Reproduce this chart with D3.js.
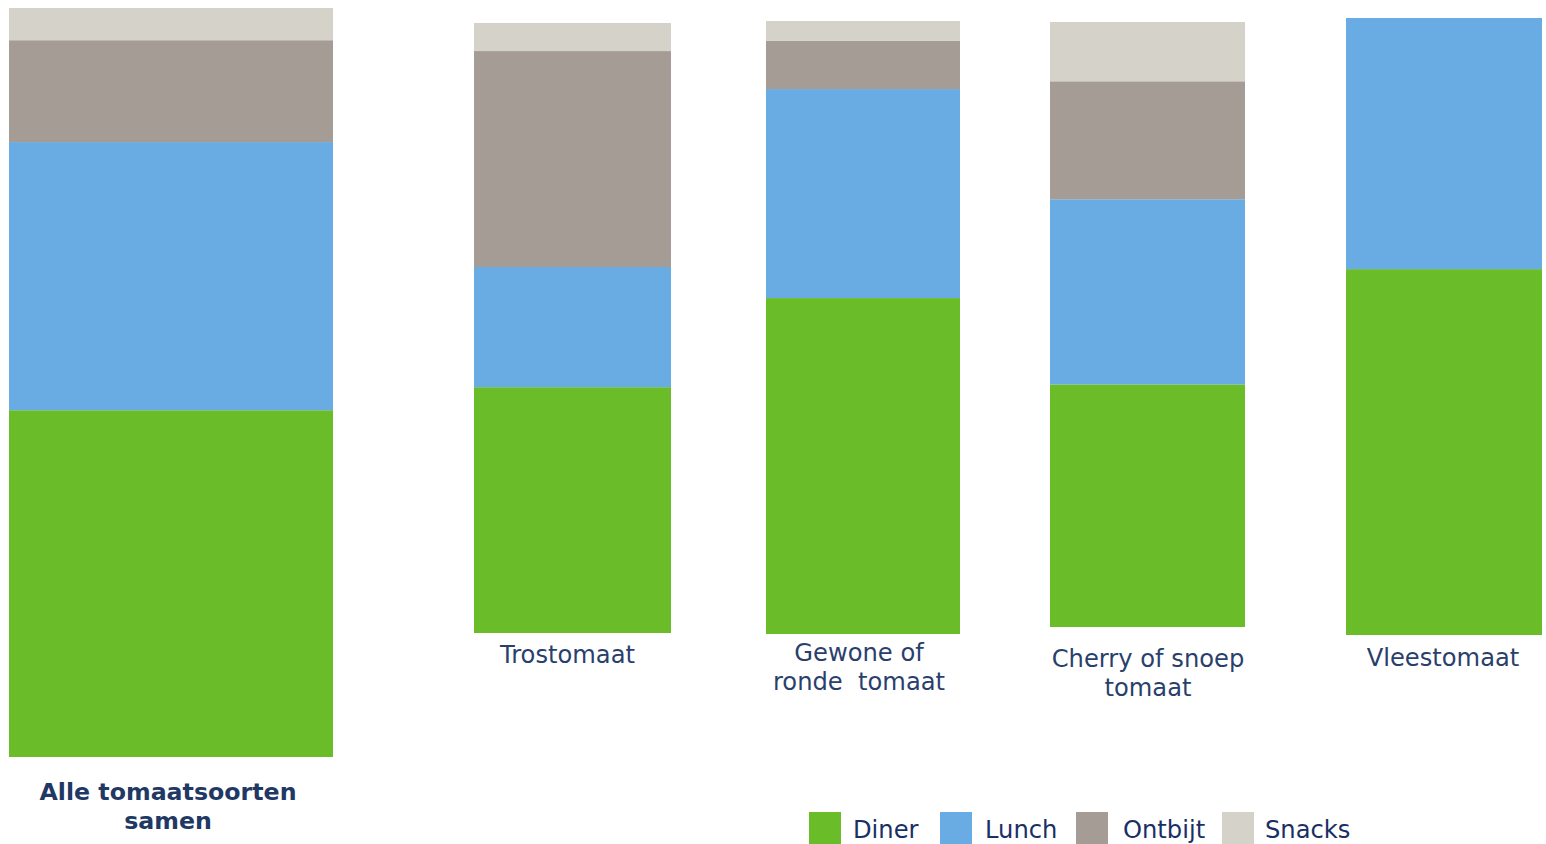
<!DOCTYPE html>
<html>
<head>
<meta charset="utf-8">
<script src="https://cdn.jsdelivr.net/npm/d3@7"></script>
<style>
  html, body { margin: 0; padding: 0; background: #ffffff; }
  svg { display: block; }
</style>
</head>
<body>
<svg id="chart" width="1546" height="844"></svg>
<script>
// ---- data ----
const categories = ["Alle tomaatsoorten samen", "Trostomaat", "Gewone of ronde  tomaat", "Cherry of snoep tomaat", "Vleestomaat"];
const series = ["Diner", "Lunch", "Ontbijt", "Snacks"];
const diner   = [46.3, 40.3, 54.8, 40.1, 59.3];
const lunch   = [35.8, 19.7, 34.1, 30.6, 40.7];
const ontbijt = [13.6, 35.4,  7.9, 19.5,  0.0];
const snacks  = [ 4.3,  4.6,  3.2,  9.8,  0.0];
const labelLines = [
  ["Alle tomaatsoorten", "samen"],
  ["Trostomaat"],
  ["Gewone of", "ronde  tomaat"],
  ["Cherry of snoep", "tomaat"],
  ["Vleestomaat"]
];

// ---- layout / style ----
const colors = { Diner: "#6abd28", Lunch: "#69ace3", Ontbijt: "#a59c96", Snacks: "#d5d2ca" };
const panels = [
  { x0: 9,    x1: 333,  top: 8,  bottom: 757, labelCx: 168,  labelY: 800, lineH: 29, bold: true },
  { x0: 474,  x1: 671,  top: 23, bottom: 633, labelCx: 567.5, labelY: 663, lineH: 29 },
  { x0: 766,  x1: 960,  top: 21, bottom: 634, labelCx: 859,  labelY: 661, lineH: 29 },
  { x0: 1050, x1: 1245, top: 22, bottom: 627, labelCx: 1148, labelY: 667, lineH: 29 },
  { x0: 1346, x1: 1542, top: 18, bottom: 635, labelCx: 1443, labelY: 666, lineH: 29 }
];
const FONT = "'DejaVu Sans', Verdana, sans-serif";

const values = { Diner: diner, Lunch: lunch, Ontbijt: ontbijt, Snacks: snacks };
const rows = categories.map((c, i) => {
  const r = { category: c };
  series.forEach(s => r[s] = values[s][i]);
  return r;
});
const stacked = d3.stack().keys(series)(rows);

const svg = d3.select("#chart");

categories.forEach((cat, i) => {
  const p = panels[i];
  const y = d3.scaleLinear().domain([0, 100]).range([p.bottom, p.top]);
  const x = d3.scaleBand().domain([cat]).range([p.x0, p.x1]).padding(0);
  const g = svg.append("g");
  stacked.forEach(layer => {
    const d = layer[i];
    if (d[1] - d[0] <= 0) return;
    g.append("rect")
      .attr("x", x(cat))
      .attr("width", x.bandwidth())
      .attr("y", y(d[1]))
      .attr("height", y(d[0]) - y(d[1]))
      .attr("fill", colors[layer.key]);
  });
  const t = svg.append("text")
    .attr("text-anchor", "middle")
    .attr("font-family", FONT)
    .attr("font-size", p.bold ? 23.7 : 24.2)
    .attr("font-weight", p.bold ? "bold" : "normal")
    .attr("fill", p.bold ? "#1f3864" : "#2a3f6c")
    .style("white-space", "pre");
  labelLines[i].forEach((ln, k) => {
    t.append("tspan").attr("x", p.labelCx).attr("y", p.labelY + k * p.lineH).text(ln);
  });
});

// ---- legend ----
const legendX = [809, 940, 1076, 1222];
const legendTextX = [853, 985, 1123, 1265];
const legend = svg.append("g");
series.forEach((s, i) => {
  legend.append("rect")
    .attr("x", legendX[i]).attr("y", 812)
    .attr("width", 32).attr("height", 32)
    .attr("fill", colors[s]);
  legend.append("text")
    .attr("x", legendTextX[i]).attr("y", 838)
    .attr("font-family", FONT).attr("font-size", 24.2)
    .attr("fill", "#1a2f66")
    .text(s);
});
</script>
</body>
</html>
